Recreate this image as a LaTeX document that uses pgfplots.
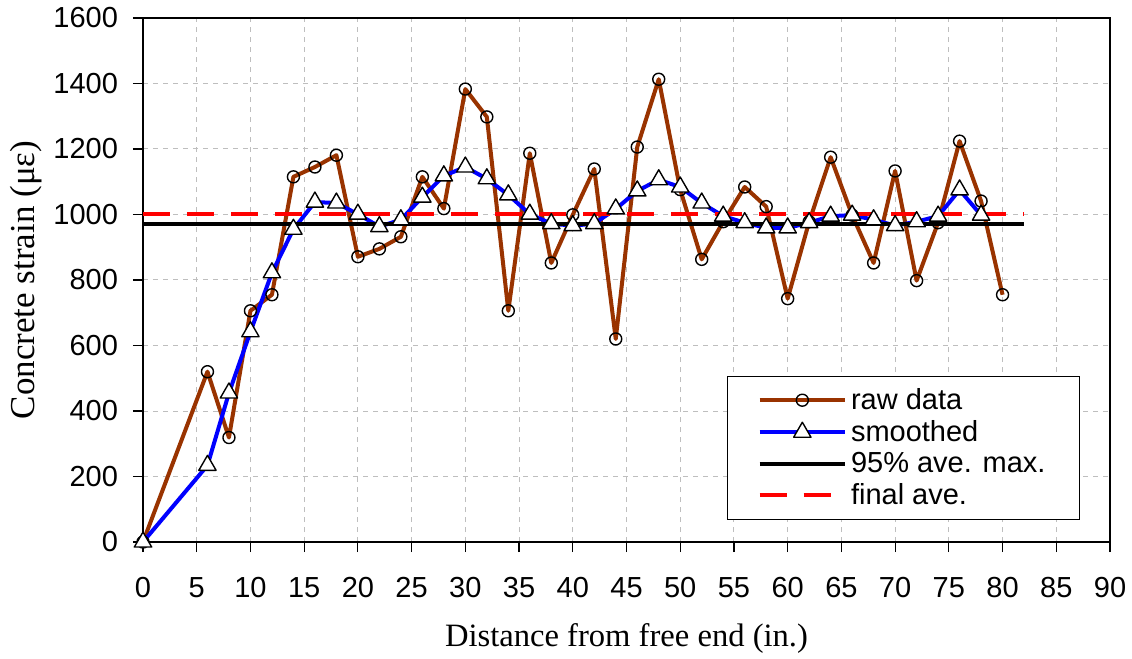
\documentclass[border=0pt]{standalone}
\usepackage{fontspec}
\setmainfont{Liberation Sans}
\newfontfamily\timesfont{Liberation Serif}
\usepackage{pgfplots}
\pgfplotsset{compat=1.18}
\definecolor{rawc}{RGB}{153,51,0}
\definecolor{gridc}{RGB}{190,190,190}
\begin{document}
\begin{tikzpicture}
\begin{axis}[
  name=ax,
  scale only axis,
  width=483.5pt, height=262pt,
  xmin=0, xmax=90, ymin=0, ymax=1600,
  xtick={0,5,...,90}, ytick={0,200,...,1600},
  xtick pos=bottom, ytick pos=left,
  axis line style={line width=0.8pt},
  tick align=outside,
  tick style={black, line width=0.6pt},
  major tick length=5pt,
  grid=major,
  major grid style={gridc, dash pattern=on 2.5pt off 2.5pt, line width=0.5pt},
  /pgf/number format/assume math mode=true,
  /pgf/number format/1000 sep={},
  ticklabel style={font=\fontsize{14.5}{17}\selectfont},
  yticklabel style={xshift=-4pt},
  xticklabel style={yshift=-9pt},
  xlabel={\timesfont Distance from free end (in.)},
  ylabel={\timesfont Concrete strain (με)},
  xlabel style={font=\fontsize{16.3}{19}\selectfont, yshift=-6pt},
  ylabel style={font=\fontsize{17.5}{20}\selectfont, yshift=-1pt},
  legend style={at={(0.969,0.042)}, anchor=south east, draw=black, line width=0.5pt,
    font=\fontsize{14.5}{17}\selectfont, row sep=0pt, inner xsep=15pt, inner ysep=4pt,
    cells={anchor=west}},
  legend cell align=left,
  legend image code/.code={
    \draw[mark repeat=2,mark phase=2,#1] plot coordinates {(0cm,0cm) (0.75cm,0cm) (1.5cm,0cm)};
  },
]
\addplot[rawc, line width=2pt, line join=round, mark=o, mark size=3pt,
  mark options={draw=black, fill=white, line width=0.7pt, solid}] coordinates {
(0,0) (6,520) (8,319) (10,706) (12,755) (14,1115) (16,1145) (18,1181) (20,871)
(22,895) (24,932) (26,1115) (28,1018) (30,1383) (32,1298) (34,706) (36,1187)
(38,852) (40,999) (42,1139) (44,620) (46,1206) (48,1413) (50,1076) (52,863)
(54,978) (56,1084) (58,1024) (60,743) (62,978) (64,1175) (66,998) (68,852)
(70,1133) (72,798) (74,975) (76,1224) (78,1041) (80,755)
};
\addlegendentry{raw data}
\addplot[blue, line width=2pt, line join=round, mark=triangle*, mark size=5pt,
  mark options={draw=black, fill=white, line width=0.7pt, solid}] coordinates {
(0,0) (6,234) (8,455) (10,642) (12,822) (14,955) (16,1038) (18,1035) (20,1001)
(22,963) (24,984) (26,1053) (28,1118) (30,1145) (32,1109) (34,1060) (36,1001)
(38,972) (40,966) (42,972) (44,1017) (46,1072) (48,1106) (50,1084) (52,1035)
(54,995) (56,975) (58,959) (60,959) (62,975) (64,995) (66,998) (68,984)
(70,966) (72,978) (74,995) (76,1075) (78,998)
};
\addlegendentry{smoothed}
\addplot[black, line width=2pt] coordinates {(0,970) (82,970)};
\addlegendentry{95\% ave. max.}
\addplot[red, line width=2pt, dash pattern=on 13.5pt off 8.5pt] coordinates {(0,1002) (82,1002)};
\addlegendentry{final ave.}
\end{axis}
\pgfresetboundingbox
\path[use as bounding box] ([shift={(-71.5pt,-58pt)}]ax.south west) rectangle ([shift={(11pt,9pt)}]ax.north east);
\end{tikzpicture}
\end{document}
